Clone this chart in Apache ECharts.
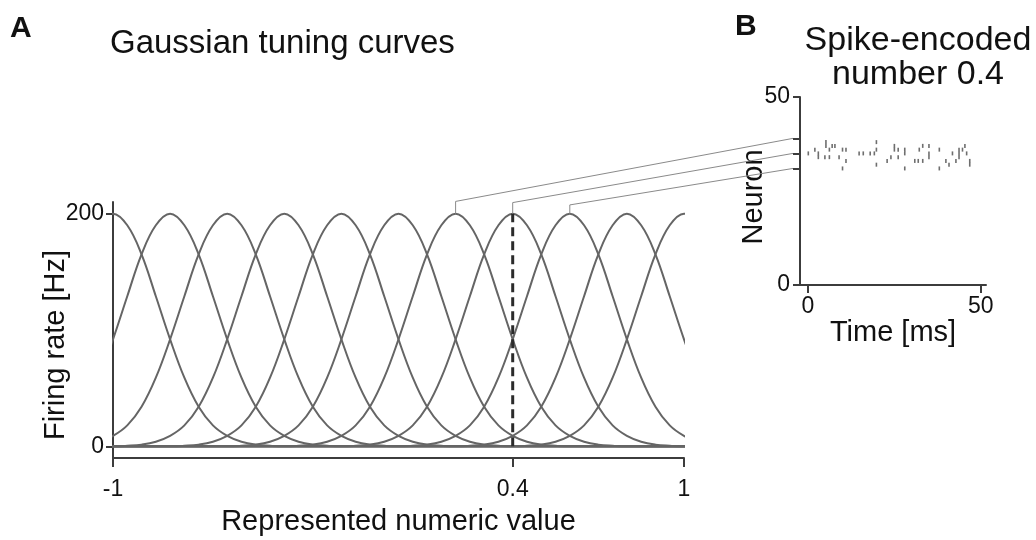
<!DOCTYPE html>
<html>
<head>
<meta charset="utf-8">
<script src="https://cdn.jsdelivr.net/npm/echarts@6/dist/echarts.min.js"></script>
<style>
html,body{margin:0;padding:0;background:#fff;}
#chart{width:1036px;height:540px;}
</style>
</head>
<body>
<div id="chart"></div>
<script>
// ---- Data ----
// Preferred values (tuning-curve centres) of the plotted neurons
const tuningCenters = [-1, -0.8, -0.6, -0.4, -0.2, 0, 0.2, 0.4, 0.6, 0.8, 1];
// Shape of one tuning curve: firing rate [Hz] at an offset from its centre
const profileOffset = [-2.2, -0.8, -0.6, -0.55, -0.5, -0.45, -0.4, -0.35, -0.3, -0.25, -0.2, -0.15, -0.1, -0.05, 0,
                       0.05, 0.1, 0.15, 0.2, 0.25, 0.3, 0.35, 0.4, 0.45, 0.5, 0.55, 0.6, 0.8, 2.2];
const profileRate   = [0, 0, 0, 0.5, 1.5, 4, 9, 18, 34, 59, 92, 129, 165, 190, 200,
                       190, 165, 129, 92, 59, 34, 18, 9, 4, 1.5, 0.5, 0, 0, 0];
const encodedValue = 0.4;
const peakRate = 200;
// Neurons linked between panels: tuning centre -> neuron index
const linkedCenters = [0.2, 0.4, 0.6];
const linkedNeurons = [39, 35, 31];
// Spike raster: spike time [ms] and neuron index
const spikeTimes = [0.1, 2.0, 3.0, 3.0, 5.2, 5.2, 4.9, 6.2, 6.2, 7.0, 7.8, 9.0, 10.0, 11.0, 11.0, 10.0,
                    14.8, 16.0, 18.0, 19.2, 19.8, 19.8, 19.8, 22.9, 24.0, 25.0, 25.0, 26.1, 26.1, 28.0, 28.0, 28.0,
                    30.9, 31.9, 33.2, 32.2, 33.2, 35.0, 35.0, 35.0, 38.0, 38.0, 39.9, 40.8, 41.8, 42.8, 43.7, 43.7, 43.7,
                    44.7, 45.4, 45.9, 46.8, 46.8];
const spikeNeurons = [35, 36, 35, 34, 38, 37, 34, 34, 36, 37, 37, 34, 36, 36, 33, 31,
                      35, 35, 35, 35, 38, 36, 32, 33, 34, 37, 36, 36, 34, 36, 35, 31,
                      33, 33, 33, 36, 37, 37, 35, 34, 36, 31, 33, 32, 35, 33, 36, 35, 34,
                      36, 37, 35, 33, 32];
// Tick labels
const ticksAx = [-1, 0.4, 1];
const ticksAy = [0, 200];
const ticksBx = [0, 50];
const ticksBy = [0, 50];

// ---- Chart ----
const FONT = "'Liberation Sans', Arial, Helvetica, sans-serif";
const AX = '#3c3c3c';
const chart = echarts.init(document.getElementById('chart'), null, {renderer: 'canvas'});

const curveSeries = tuningCenters.map(c => ({
  type: 'line', xAxisIndex: 0, yAxisIndex: 0,
  data: profileOffset.map((o, i) => [c + o, profileRate[i]]),
  smooth: 0.4, showSymbol: false, symbol: 'none', silent: true,
  lineStyle: {color: '#656565', width: 2}, z: 2
}));

const axisCommon = {
  axisLine: {show: true, onZero: false, lineStyle: {color: AX, width: 2}},
  splitLine: {show: false},
  nameTextStyle: {fontSize: 29, color: '#111', fontFamily: FONT}
};
const tickFont = {fontSize: 23, color: '#111', fontFamily: FONT};

const option = {
  animation: false,
  backgroundColor: '#ffffff',
  grid: [
    {left: 113, right: 352, top: 202, bottom: 82, containLabel: false},
    {left: 800, right: 50, top: 97, bottom: 255, containLabel: false}
  ],
  xAxis: [
    Object.assign({}, axisCommon, {
      gridIndex: 0, type: 'value', min: -1, max: 1,
      name: 'Represented numeric value', nameLocation: 'middle', nameGap: 49,
      axisTick: {show: true, length: 9, customValues: ticksAx, lineStyle: {color: AX, width: 2}},
      axisLabel: Object.assign({customValues: ticksAx, margin: 20, formatter: v => String(v)}, tickFont)
    }),
    Object.assign({}, axisCommon, {
      gridIndex: 1, type: 'value', min: -2.3, max: 51.5,
      name: 'Time [ms]', nameLocation: 'middle', nameGap: 29,
      axisTick: {show: true, length: 8, customValues: ticksBx, lineStyle: {color: AX, width: 2}},
      axisLabel: Object.assign({customValues: ticksBx, margin: 10}, tickFont)
    })
  ],
  yAxis: [
    Object.assign({}, axisCommon, {
      gridIndex: 0, type: 'value', min: -10, max: 210,
      axisTick: {show: true, length: 7, customValues: ticksAy, lineStyle: {color: AX, width: 2}},
      axisLabel: Object.assign({customValues: ticksAy, margin: 9}, tickFont)
    }),
    Object.assign({}, axisCommon, {
      gridIndex: 1, type: 'value', min: 0, max: 50,
      axisTick: {show: true, length: 7, customValues: ticksBy.concat(linkedNeurons), lineStyle: {color: AX, width: 2}},
      axisLabel: Object.assign({customValues: ticksBy, margin: 10}, tickFont)
    })
  ],
  series: curveSeries.concat([
    {
      type: 'line', xAxisIndex: 0, yAxisIndex: 0,
      data: [[encodedValue, 0], [encodedValue, peakRate]],
      showSymbol: false, symbol: 'none', silent: true,
      lineStyle: {color: '#2b2b2b', width: 3, type: [9, 5]}, z: 5
    },
    {
      type: 'scatter', xAxisIndex: 1, yAxisIndex: 1,
      data: spikeTimes.map((t, i) => [t, spikeNeurons[i]]),
      symbol: 'rect', symbolSize: [1.6, 4], silent: true,
      itemStyle: {color: '#4a4a4a'}
    }
  ]),
  graphic: [
    {type: 'text', left: 10, top: 14, style: {text: 'A', font: "bold 30px " + FONT, fill: '#111'}},
    {type: 'text', left: 735, top: 12, style: {text: 'B', font: "bold 30px " + FONT, fill: '#111'}},
    {type: 'text', x: 110, y: 44, style: {text: 'Gaussian tuning curves', font: "33px " + FONT, fill: '#111',
      textAlign: 'left', textVerticalAlign: 'middle'}},
    {type: 'text', x: 918, y: 41, style: {text: 'Spike-encoded', font: "34px " + FONT, fill: '#111',
      textAlign: 'center', textVerticalAlign: 'middle'}},
    {type: 'text', x: 918, y: 75, style: {text: 'number 0.4', font: "34px " + FONT, fill: '#111',
      textAlign: 'center', textVerticalAlign: 'middle'}},
    {type: 'text', x: 56, y: 345, rotation: Math.PI / 2,
      style: {text: 'Firing rate [Hz]', font: "29px " + FONT, fill: '#111', textAlign: 'center', textVerticalAlign: 'middle'}},
    {type: 'text', x: 754, y: 197, rotation: Math.PI / 2,
      style: {text: 'Neuron', font: "29px " + FONT, fill: '#111', textAlign: 'center', textVerticalAlign: 'middle'}}
  ]
};
chart.setOption(option);

// Connecting lines from curve peaks (panel A) to neuron rows (panel B)
const bendRate = [210.5, 209.5, 207.5];
const links = linkedCenters.map((c, i) => {
  const p0 = chart.convertToPixel({gridIndex: 0}, [c, peakRate]);
  const p1 = chart.convertToPixel({gridIndex: 0}, [c, bendRate[i]]);
  const q = chart.convertToPixel({gridIndex: 1}, [-2.3, linkedNeurons[i]]);
  return {
    type: 'polyline', silent: true, z: 10,
    shape: {points: [p0, p1, [q[0] - 7, q[1]]]},
    style: {stroke: '#8a8a8a', lineWidth: 1, fill: null}
  };
});
chart.setOption({graphic: option.graphic.concat(links)});
</script>
</body>
</html>
